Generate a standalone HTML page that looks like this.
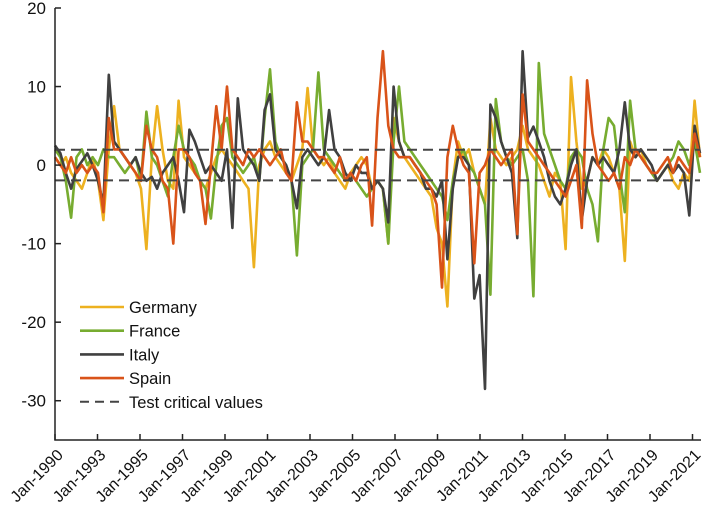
<!DOCTYPE html>
<html><head><meta charset="utf-8"><style>
body{margin:0;background:#fff}
svg{display:block;font-family:"Liberation Sans",Arial,sans-serif}
</style></head><body>
<svg id="chart" width="710" height="525" viewBox="0 0 710 525">
<g id="plot"></g>
<g id="axes"></g>
<g id="legend"></g>
</svg>
<script>
const xTickLabels = ["Jan-1990","Jan-1993","Jan-1995","Jan-1997","Jan-1999","Jan-2001","Jan-2003","Jan-2005","Jan-2007","Jan-2009","Jan-2011","Jan-2013","Jan-2015","Jan-2017","Jan-2019","Jan-2021"];
const yTicks = [20,10,0,-10,-20,-30];
const criticalValues = [1.95,-1.95];
const germany = [1,0,1,-1,-2,-3,-1,1,-2,-7, 2,7.5,2,1,0,-1,-3,-10.7,1,7.5, 2,-2,-3,8.2,1,0,-1,-2,-3,-1, 1,2,1,0,-1,-2,-3,-13,0,2, 3,1,0,-1,-2,0,2,9.8,2,1, 0,1,-1,-2,-3,-1,0,1,0,-3, -2,-3,-10,6,3,1,0,-1,-2,-3, -4,-8,-10,-18,-2,3,1,2,-1,-3, -5,6,2,1,0,1,2,5,2,1, 0,-2,-4,-1,-2,-10.7,11.2,3,-3,-2, 1,0,2,1,-1,-3,-12.2,3,1,2, 0,-1,-2,-1,0,-2,-3,-1,-2,8.2,1];
const france = [2,1,-2,-6.7,1,2,0,1,0,2, 1,1,0,-1,0,1,-2,6.8,1,0, -2,-4,1,5,2,1,0,-2,-3,-6.8, 0,5,6,1,0,-1,0,1,-2,6, 12.2,3,1,0,-2,-11.5,0,1,2,11.8, 2,1,0,-1,-2,-1,-2,-3,-4,-3, -2,-3,-10,3,10,3,2,1,0,-1, -2,-3,-4,-7,-2,1,2,0,-1,-3, -5,-16.5,8.4,3,1,0,1,2,-2,-16.7, 13,4,2,0,-2,-3,1,2,1,-3, -5,-9.7,2,6,5,-1,-6,8.2,2,1, 0,-1,-2,-1,0,1,3,2,0,3,-1];
const italy = [2.5,1.5,-1,-3,-0.5,0.5,1.5,0,-2,-5, 11.5,3,2,1,0,1,-1,-2,-1.5,-3, -1,0,1,-2,-6,4.5,3,1,-1,0, -1,-2,2,-8,8.5,2,1,0,-2,7, 9,2,1,0,-2,-5.5,1,2,1,0, 1,7,2,1,-1,-2,0,-1,-1,-3, -2,-3,-7.3,10,3,1,1,0,-1,-3, -3,-4,-2,-12,-3,1,1,0,-17,-14, -28.5,7.7,6,3,1,-1,-9.3,14.5,3.5,4.9, 3,1,-2,-4,-5,-3,0,2,-7,-2, 1,0,1,0,-1,2,8,2,1,2, 1,0,-2,-1,0,-1,0,-1,-6.4,5,1.5];
const spain = [1,0,-1,1,-1,0,-1,0,-1,-6, 6,2,2,1,0,-1,-2,5,2,1, -2,-3,-10,2,2,1,-1,-2,-7.5,0, 7.5,2,10,2,1,0,2,1,2,1, 0,1,2,-1,-2,8,3,3,2,1, 1,0,-1,1,-2,-1,-2,0,1,-7.7, 6,14.5,5,2,1,1,1,0,-1,-2, -3,-5,-15.6,1,5,2,0,-1,-12.5,-1, 0,2,1,0,1,2,-8.8,9,3,2, 1,0,-1,-2,-3,-4,-2,0,-8,10.8, 4,0,-1,-2,-1,-3,1,0,2,1, 0,-1,-1,0,1,-1,1,0,-1,4,1];

const NS="http://www.w3.org/2000/svg";
const L=55,R=700,T=8,B=440,YMIN=-35,YMAX=20;
const yS=v=>T+(YMAX-v)/(YMAX-YMIN)*(B-T);
const xS=(i,n)=>L+i/(n-1)*(R-L);
const xTick=i=>L+i*42.5;
function mk(tag,attrs,parent){const e=document.createElementNS(NS,tag);for(const k in attrs)e.setAttribute(k,attrs[k]);parent.appendChild(e);return e;}
const plot=document.getElementById('plot'),axes=document.getElementById('axes'),leg=document.getElementById('legend');

const series=[["germany",germany,"#EDB120"],["france",france,"#77AC30"],["italy",italy,"#404040"],["spain",spain,"#D95319"]];
series.forEach(s=>{
  const d=s[1].map((v,i)=>(i?"L":"M")+xS(i,s[1].length).toFixed(1)+","+yS(v).toFixed(1)).join("");
  const p=mk('path',{d:d,fill:"none",stroke:s[2],"stroke-width":2.6,"stroke-linejoin":"round"},plot);
  
  
});
criticalValues.forEach((v,k)=>{
  const l=mk('line',{x1:L,x2:R,y1:yS(v),y2:yS(v),stroke:"#444","stroke-width":2,"stroke-dasharray":"10,6"},plot);
  
  
});
const ax=mk('path',{d:`M${L},${T}L${L},${B}L${R+1},${B}`,fill:"none",stroke:"#222","stroke-width":1.5},axes);


yTicks.forEach(v=>{
  const y=yS(v);
  const t=mk('line',{x1:L,x2:L+6,y1:y,y2:y,stroke:"#222","stroke-width":1.5},axes);
  
  
  const tx=mk('text',{x:L-9,y:y+6,"text-anchor":"end","font-size":17,fill:"#111"},axes);
  tx.textContent=v;
  
  
});
xTickLabels.forEach((lab,i)=>{
  const x=xTick(i);
  const t=mk('line',{x1:x,x2:x,y1:B,y2:B-6,stroke:"#222","stroke-width":1.5},axes);
  
  
  const tx=mk('text',{x:x+9,y:B+16,"text-anchor":"end","font-size":16,fill:"#111",transform:`rotate(-45 ${x+9} ${B+16})`},axes);
  tx.textContent=lab;
  
  
});
const legItems=[["Germany","#EDB120",0],["France","#77AC30",0],["Italy","#404040",0],["Spain","#D95319",0],["Test critical values","#444",1]];
legItems.forEach((it,k)=>{
  const y=312+k*23.7;
  const g=mk('g',{},leg);
  
  
  const a={x1:80,x2:124,y1:y-5,y2:y-5,stroke:it[1],"stroke-width":it[2]?2:2.6};
  if(it[2])a["stroke-dasharray"]="9,6";
  mk('line',a,g);
  const tx=mk('text',{x:129,y:y+1,"font-size":16.5,fill:"#111"},g);
  tx.textContent=it[0];
});
</script>
</body></html>
